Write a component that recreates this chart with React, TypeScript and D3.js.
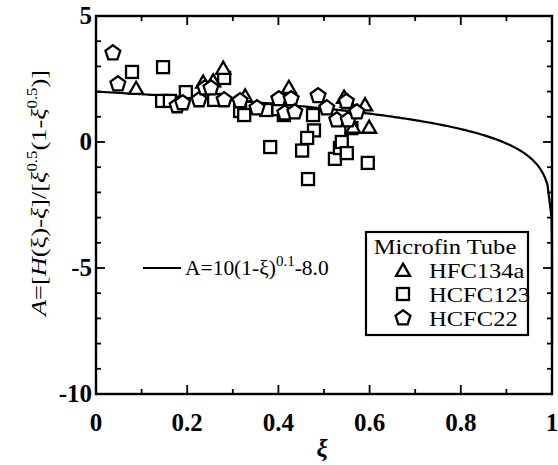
import React from "react";
import * as d3 from "d3";

const hfc134a: [number, number][] = [
  [0.088, 2.1], [0.235, 2.35], [0.257, 2.4], [0.279, 2.9], [0.327, 1.8], [0.423, 2.14],
  [0.544, 1.75], [0.552, 1.59], [0.59, 1.45], [0.564, 0.56], [0.599, 0.56],
];
const hcfc123: [number, number][] = [
  [0.079, 2.78], [0.147, 2.97], [0.145, 1.63], [0.162, 1.63], [0.197, 1.98], [0.259, 1.67],
  [0.281, 2.54], [0.316, 1.23], [0.325, 1.07], [0.373, 1.27], [0.382, -0.2], [0.412, 1.07],
  [0.476, 1.07], [0.478, 0.46], [0.463, 0.16], [0.452, -0.34], [0.465, -1.47], [0.524, -0.67],
  [0.535, -0.24], [0.539, 0.0], [0.55, -0.44], [0.596, -0.83], [0.56, 0.55], [0.4, 1.3],
];
const hcfc22: [number, number][] = [
  [0.037, 3.53], [0.048, 2.3], [0.178, 1.43], [0.19, 1.55], [0.226, 1.67], [0.239, 2.14],
  [0.252, 2.14], [0.281, 1.67], [0.316, 1.63], [0.353, 1.35], [0.401, 1.71], [0.428, 1.71],
  [0.414, 1.15], [0.436, 1.19], [0.487, 1.83], [0.506, 1.35], [0.528, 0.87], [0.553, 0.87],
  [0.572, 1.19], [0.549, 1.6],
];
const xTicks = [0, 0.2, 0.4, 0.6, 0.8, 1];
const xTickLabels = ["0", "0.2", "0.4", "0.6", "0.8", "1"];
const yTicks = [5, 0, -5, -10];
const yTickLabels = ["5", "0", "-5", "-10"];
const legendLabels = ["HFC134a", "HCFC123", "HCFC22"];

const fitA = (xi: number) => 10 * Math.pow(Math.max(0, 1 - xi), 0.1) - 8.0;

const W = 558, H = 465;
const L = 96, R = 552, T = 16, B = 394;
const FONT = "Liberation Serif, DejaVu Serif, serif";
const ts = { fontFamily: FONT };

export default function App() {
  const x = d3.scaleLinear().domain([0, 1]).range([L, R]);
  const y = d3.scaleLinear().domain([-10, 5]).range([B, T]);

  const xiSamples: number[] = [...d3.range(0, 0.99, 0.005)];
  for (let k = 2; k <= 14; k++) xiSamples.push(1 - Math.pow(10, -k));
  xiSamples.push(1);
  const curve = d3.line<number>().x((d) => x(d)).y((d) => y(fitA(d)))(xiSamples) || "";

  const sq = 12, tri = 14, pent = 7.8;
  const SW = 2.3;
  const square = (cx: number, cy: number, k: string) => (
    <rect key={k} x={cx - sq / 2} y={cy - sq / 2} width={sq} height={sq} fill="white" stroke="black" strokeWidth={SW} />
  );
  const triangle = (cx: number, cy: number, k: string) => {
    const h = tri * 0.87;
    const p = `${cx},${cy - h * 0.6} ${cx + tri / 2},${cy + h * 0.4} ${cx - tri / 2},${cy + h * 0.4}`;
    return <polygon key={k} points={p} fill="white" stroke="black" strokeWidth={SW} />;
  };
  const pentagon = (cx: number, cy: number, k: string) => {
    const pts = d3.range(5).map((i) => {
      const a = -Math.PI / 2 + (i * 2 * Math.PI) / 5;
      return `${cx + pent * Math.cos(a)},${cy + pent * Math.sin(a)}`;
    }).join(" ");
    return <polygon key={k} points={pts} fill="white" stroke="black" strokeWidth={SW} />;
  };

  const xMinor = d3.range(0, 1.0001, 0.1);
  const yMinor = d3.range(-10, 5.0001, 1);

  return (
    <svg width={W} height={H} style={{ position: "absolute", left: 0, top: 0, background: "white", fontFamily: FONT }}>
      <rect x={0} y={0} width={W} height={H} fill="white" />
      {xMinor.map((v, i) => {
        const major = Math.abs(v * 5 - Math.round(v * 5)) < 1e-6;
        const len = major ? 9 : 5;
        return (
          <g key={"xt" + i}>
            <line x1={x(v)} x2={x(v)} y1={B} y2={B - len} stroke="black" strokeWidth={1.8} />
            <line x1={x(v)} x2={x(v)} y1={T} y2={T + len} stroke="black" strokeWidth={1.8} />
          </g>
        );
      })}
      {yMinor.map((v, i) => {
        const major = Math.abs(v % 5) < 1e-6;
        const len = major ? 9 : 5;
        return (
          <g key={"yt" + i}>
            <line x1={L} x2={L + len} y1={y(v)} y2={y(v)} stroke="black" strokeWidth={1.8} />
            <line x1={R} x2={R - len} y1={y(v)} y2={y(v)} stroke="black" strokeWidth={1.8} />
          </g>
        );
      })}
      <path d={curve} fill="none" stroke="black" strokeWidth={2.2} />
      {hcfc123.map((d, i) => square(x(d[0]), y(d[1]), "s" + i))}
      {hfc134a.map((d, i) => triangle(x(d[0]), y(d[1]), "t" + i))}
      {hcfc22.map((d, i) => pentagon(x(d[0]), y(d[1]), "p" + i))}
      <rect x={L} y={T} width={R - L} height={B - T} fill="none" stroke="black" strokeWidth={2.4} />
      {xTicks.map((v, i) => (
        <text key={"xl" + i} style={ts} x={x(v)} y={B + 37} textAnchor="middle" fontSize={25} fontWeight="bold">{xTickLabels[i]}</text>
      ))}
      {yTicks.map((v, i) => (
        <text key={"yl" + i} style={ts} x={L - 4} y={y(v) + 8} textAnchor="end" fontSize={25} fontWeight="bold">{yTickLabels[i]}</text>
      ))}
      <text style={ts} x={322} y={457} textAnchor="middle" fontSize={25} fontStyle="italic" fontWeight="bold">ξ</text>
      <text style={ts} transform="translate(46,193) rotate(-90) scale(1.2,1)" textAnchor="middle" fontSize={22}>
        <tspan fontStyle="italic">A</tspan>=[<tspan fontStyle="italic">H</tspan>(ξ)-<tspan fontStyle="italic">ξ</tspan>]/[<tspan fontStyle="italic">ξ</tspan><tspan fontSize={14} dy={-9}>0.5</tspan><tspan dy={9}>(1-</tspan><tspan fontStyle="italic">ξ</tspan><tspan fontSize={14} dy={-9}>0.5</tspan><tspan dy={9}>)]</tspan>
      </text>
      <line x1={143} x2={181} y1={268} y2={268} stroke="black" strokeWidth={2.2} />
      <text style={ts} transform="translate(185,275) scale(1.075,1)" fontSize={20}>
        A=10(1-ξ)<tspan fontSize={14} dy={-9}>0.1</tspan><tspan dy={9}>-8.0</tspan>
      </text>
      <rect x={366} y={232} width={162} height={103} fill="white" stroke="black" strokeWidth={2.2} />
      <text style={ts} transform="translate(445,254) scale(1.17,1)" textAnchor="middle" fontSize={21}>Microfin Tube</text>
      {triangle(403, 271, "lt")}
      {square(403, 294, "ls")}
      {pentagon(403, 318, "lp")}
      {legendLabels.map((t, i) => (
        <text key={"lg" + i} style={ts} transform={`translate(429,${278 + i * 24}) scale(1.17,1)`} fontSize={21}>{t}</text>
      ))}
    </svg>
  );
}
